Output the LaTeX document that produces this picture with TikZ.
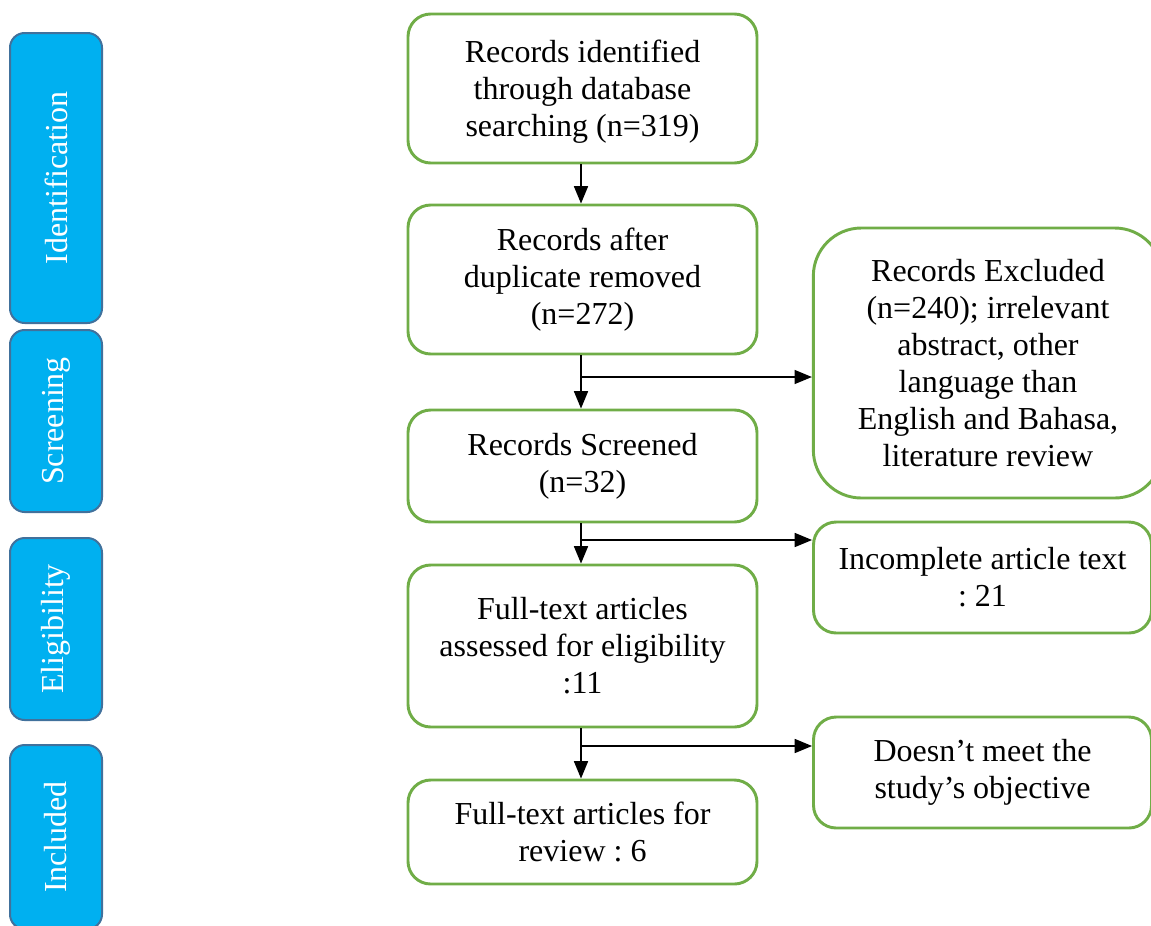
\documentclass[tikz,border=0pt]{standalone}
\usepackage{fontspec}
\setmainfont{Liberation Serif}
\frenchspacing
\usetikzlibrary{arrows.meta,calc}
\definecolor{boxgreen}{HTML}{70AD47}
\definecolor{barblue}{HTML}{00B0F0}
\definecolor{barline}{HTML}{41719C}
\tikzset{
  flowbox/.style={draw=boxgreen, line width=2.2pt, rounded corners=17pt, fill=white,
    align=center, inner sep=0pt, font=\fontsize{24}{27.75}\selectfont, text=black},
  phasebar/.style={draw=barline, line width=1.5pt, fill=barblue, rounded corners=11pt,
    inner sep=0pt},
  phasetext/.style={rotate=90, text=white, font=\fontsize{24}{27}\selectfont},
  arr/.style={draw=black, line width=1.1pt, -{Triangle[length=13pt,width=10.5pt]}}
}
\begin{document}
\begin{tikzpicture}[x=0.75pt,y=-0.75pt]
\useasboundingbox (0,0) rectangle (1151,925);
\begin{scope}
\clip (0,0) rectangle (1151,925);
% phase bars
\node[phasebar, minimum width=69pt, minimum height=217.5pt] (pid) at (56,178) {};
\node[phasetext] (tid) at (pid.center) {Identification};
\node[phasebar, minimum width=69pt, minimum height=136.5pt] (psc) at (56,421) {};
\node[phasetext] (tsc) at (psc.center) {Screening};
\node[phasebar, minimum width=69pt, minimum height=136.5pt] (pel) at (56,629) {};
\node[phasetext] (tel) at (pel.center) {Eligibility};
\node[phasebar, minimum width=69pt, minimum height=138pt] (pin) at (56,837) {};
\node[phasetext] (tin) at (pin.center) {Included};

% main column
\node[flowbox, minimum width=261.75pt, minimum height=111.75pt] (b1) at (582.5,88.5)
  {\\[-6pt]Records identified\\through database\\searching (n=319)};
\node[flowbox, minimum width=261.75pt, minimum height=111.75pt] (b2) at (582.5,279.5)
  {Records after\\duplicate removed\\(n=272)};
\node[flowbox, minimum width=261.75pt, minimum height=84pt] (b3) at (582.5,466)
  {Records Screened\\(n=32)};
\node[flowbox, minimum width=261.75pt, minimum height=121.5pt] (b4) at (582.5,646)
  {Full-text articles\\assessed for eligibility\\:11};
\node[flowbox, minimum width=261.75pt, minimum height=78pt] (b5) at (582.5,832)
  {Full-text articles for\\review : 6};

% right column
\node[flowbox, rounded corners=36pt, minimum width=262pt, minimum height=202.5pt] (r1) at (988,363)
  {Records Excluded\\(n=240); irrelevant\\abstract, other\\language than\\English and Bahasa,\\literature review};
\node[flowbox, minimum width=253.5pt, minimum height=83.25pt] (r2) at (982.5,577.5)
  {Incomplete article text\\: 21};
\node[flowbox, minimum width=253.5pt, minimum height=83.25pt] (r3) at (982.5,772.5)
  {Doesn’t meet the\\study’s objective};
\end{scope}

% connectors
\coordinate (c1) at (581,377);
\coordinate (c2) at (581,540);
\coordinate (c3) at (581,746);
\draw[arr] (b1.south -| c1) -- (b2.north -| c1);
\draw[arr] (b2.south -| c1) -- (b3.north -| c1);
\draw[arr] (b3.south -| c2) -- (b4.north -| c2);
\draw[arr] (b4.south -| c3) -- (b5.north -| c3);
\draw[arr] (c1) -- (c1 -| r1.west);
\draw[arr] (c2) -- (c2 -| r2.west);
\draw[arr] (c3) -- (c3 -| r3.west);
\end{tikzpicture}
\end{document}
